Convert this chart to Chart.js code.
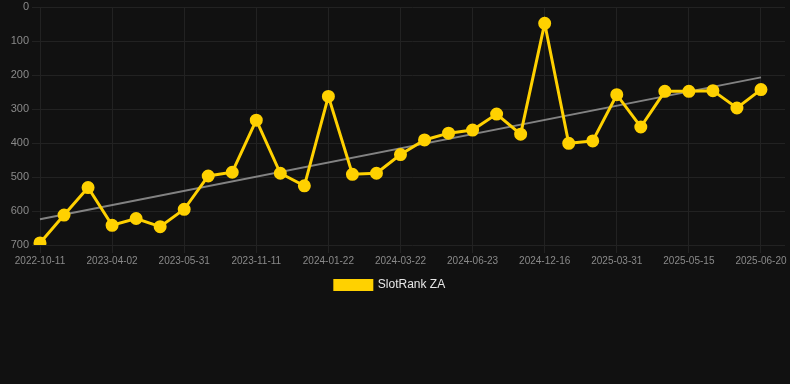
<!DOCTYPE html>
<html>
<head>
<meta charset="utf-8">
<script src="https://cdn.jsdelivr.net/npm/chart.js@4/dist/chart.umd.min.js"></script>
<style>
    html, body { margin: 0; padding: 0; background: #111111; overflow: hidden; }
    #wrap { width: 806px; height: 302px; position: relative; left: -13px; top: -1px; }
</style>
</head>
<body>
<div id="wrap"><canvas id="rankChart"></canvas></div>
<script>
const dates = [
    "2022-10-11", "2022-12-05", "2023-02-10", "2023-04-02", "2023-04-20", "2023-05-08",
    "2023-05-31", "2023-07-12", "2023-09-02", "2023-11-11", "2023-12-01", "2023-12-28",
    "2024-01-22", "2024-02-10", "2024-03-01", "2024-03-22", "2024-04-15", "2024-05-20",
    "2024-06-23", "2024-08-10", "2024-10-05", "2024-12-16", "2025-01-20", "2025-02-25",
    "2025-03-31", "2025-04-12", "2025-04-28", "2025-05-15", "2025-05-28", "2025-06-08",
    "2025-06-20"
];

const rankValues = [
    694, 612, 531, 642, 622, 646, 595, 497, 486, 333, 489, 526,
    263, 492, 489, 434, 391, 371, 362, 315, 374, 48, 401, 394,
    258, 353, 248, 248, 246, 297, 243
];

// trend line end points
const trendStart = 624;
const trendEnd = 207;

const yTicks = [0, 100, 200, 300, 400, 500, 600, 700];

// one empty slot after the last date so the grid runs past the last point
const labels = [...dates, ""];
const trendValues = labels.map((d, i) => {
    if (i === 0) return trendStart;
    if (i === dates.length - 1) return trendEnd;
    return null;
});

new Chart(
    document.getElementById("rankChart"),
    {
        type: "line",
        data: {
            labels: labels,
            datasets: [{
                label: "SlotRank ZA",
                data: rankValues,
                borderColor: "#FFD100",
                backgroundColor: "#FFD100",
                borderWidth: 3,
                pointRadius: 5,
                pointBackgroundColor: "#FFD100",
                pointBorderColor: "#FFD100",
                tension: 0
            },
            {
                label: "trend",
                data: trendValues,
                borderColor: "rgba(150, 150, 150, 0.85)",
                borderWidth: 2,
                pointRadius: 0,
                spanGaps: true,
                order: 1
            }]
        },
        options: {
            responsive: true,
            maintainAspectRatio: false,
            animation: false,
            layout: { padding: 0 },
            plugins: {
                legend: {
                    position: "bottom",
                    labels: {
                        color: "#e6e6e6",
                        font: { size: 12, family: "Liberation Sans, Arial, sans-serif" },
                        boxWidth: 37,
                        boxHeight: 9,
                        filter: item => item.text !== "trend"
                    }
                },
                tooltip: { enabled: false }
            },
            scales: {
                x: {
                    grid: { color: "#222222", tickLength: 8 },
                    border: { display: false },
                    ticks: {
                        autoSkip: false,
                        maxRotation: 0,
                        padding: 2,
                        color: "#8a8a8a",
                        font: { size: 10, family: "Liberation Sans, Arial, sans-serif" },
                        callback: function(value, i) {
                            return i % 3 === 0 && i < dates.length ? dates[i] : null;
                        }
                    }
                },
                y: {
                    reverse: true,
                    min: 0,
                    max: 700,
                    grid: { color: "#222222", tickLength: 8 },
                    border: { display: false },
                    afterBuildTicks: axis => {
                        axis.ticks = yTicks.map(v => ({ value: v }));
                    },
                    afterFit: axis => {
                        axis.width = 53;
                    },
                    ticks: {
                        color: "#8a8a8a",
                        font: { size: 11, lineHeight: 0.5, family: "Liberation Sans, Arial, sans-serif" }
                    }
                }
            }
        }
    }
);
</script>
</body>
</html>
